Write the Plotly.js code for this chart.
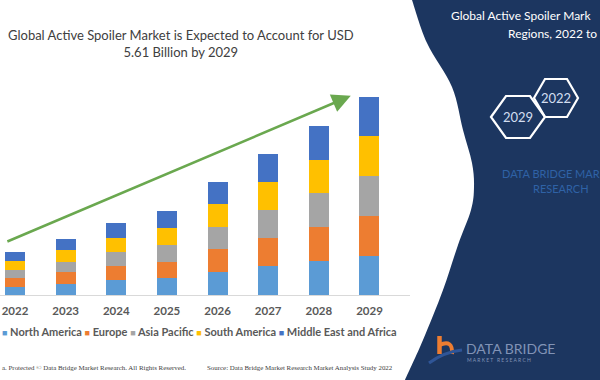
<!DOCTYPE html>
<html>
<head>
<meta charset="utf-8">
<script src="https://cdn.plot.ly/plotly-3.0.1.min.js"></script>
<style>html,body{margin:0;padding:0;background:#fff}#chart{width:600px;height:380px}</style>
</head>
<body>
<div id="chart"></div>
<script>
// ---- data ----
const years = ['2022','2023','2024','2025','2026','2027','2028','2029'];
const seriesNames = ['North America','Europe','Asia Pacific','South America','Middle East and Africa'];
const northAmerica     = [0.22,0.31,0.43,0.47,0.66,0.82,0.96,1.12];
const europe           = [0.26,0.33,0.40,0.47,0.64,0.79,0.96,1.13];
const asiaPacific      = [0.24,0.30,0.39,0.48,0.62,0.80,0.96,1.12];
const southAmerica     = [0.24,0.35,0.41,0.48,0.65,0.79,0.96,1.13];
const middleEastAfrica = [0.26,0.31,0.40,0.49,0.63,0.81,0.95,1.12];
const titleLines = ['Global Active Spoiler Market is Expected to Account for USD','5.61 Billion by 2029'];
// side panel texts as they are visible in the (cropped) reference
const sideTitle = ['Global Active Spoiler Mark','Regions, 2022 to'];
const sideBrand = ['DATA BRIDGE MAR','RESEARCH'];
const hexYears = ['2022','2029'];
const footerLeft = 'a. Protected © Data Bridge Market Research. All Rights Reserved.';
const footerRight = 'Source: Data Bridge Market Research Market Analysis Study 2022';

// ---- styling ----
const colors = ['#5b9bd5','#ed7d31','#a5a5a5','#ffc000','#4472c4'];
const values = [northAmerica, europe, asiaPacific, southAmerica, middleEastAfrica];
const W = 600, H = 380;
const px = x => x / W;
const py = y => 1 - y / H;
const idx = years.map((_, i) => i);

const traces = values.map((v, i) => ({
  type: 'bar', x: idx, y: v, name: seriesNames[i],
  marker: {color: colors[i], line: {width: 0}}, hoverinfo: 'skip'
}));

function smoothPath(pts) {
  let d = `M ${px(pts[0][0])} ${py(pts[0][1])}`;
  for (let i = 0; i < pts.length - 1; i++) {
    const p0 = pts[Math.max(i - 1, 0)], p1 = pts[i], p2 = pts[i + 1], p3 = pts[Math.min(i + 2, pts.length - 1)];
    const c1 = [p1[0] + (p2[0] - p0[0]) / 6, p1[1] + (p2[1] - p0[1]) / 6];
    const c2 = [p2[0] - (p3[0] - p1[0]) / 6, p2[1] - (p3[1] - p1[1]) / 6];
    d += ` C ${px(c1[0])} ${py(c1[1])} ${px(c2[0])} ${py(c2[1])} ${px(p2[0])} ${py(p2[1])}`;
  }
  return d;
}
const curve = [[412,0],[427,43],[452,87],[463,130],[472,163],[474,187],[471,210],[458,245],[443,290],[423,340],[405,380]];
const panelPath = smoothPath(curve) + ` L ${px(600)} ${py(380)} L ${px(600)} ${py(0)} Z`;

function hexPath(cx, cy, hw, hh, ht) {
  const p = [[cx - hw, cy],[cx - ht, cy - hh],[cx + ht, cy - hh],[cx + hw, cy],[cx + ht, cy + hh],[cx - ht, cy + hh]];
  return 'M ' + p.map(q => `${px(q[0])} ${py(q[1])}`).join(' L ') + ' Z';
}
const hexes = [{cx:556, cy:98, hw:22, hh:19, ht:11}, {cx:518, cy:117, hw:27, hh:21, ht:12}];

const shapes = [
  {type:'path', xref:'paper', yref:'paper', path: panelPath, fillcolor:'#1c3660', line:{width:0}, layer:'below'},
  ...hexes.map(h => ({type:'path', xref:'paper', yref:'paper', path: hexPath(h.cx,h.cy,h.hw,h.hh,h.ht), line:{color:'#ffffff', width:2.2}, layer:'above'})),
  // logo
  {type:'path', xref:'paper', yref:'paper', path:`M ${px(439.5)} ${py(336)} L ${px(439.5)} ${py(354)}`, line:{color:'#ed7d31', width:4.5}},
  {type:'path', xref:'paper', yref:'paper', path:`M ${px(439.5)} ${py(345)} Q ${px(453)} ${py(339)} ${px(452)} ${py(354)}`, line:{color:'#ed7d31', width:4}},
  {type:'path', xref:'paper', yref:'paper', path:`M ${px(429)} ${py(363)} Q ${px(444)} ${py(352)} ${px(462)} ${py(350)}`, line:{color:'#2f5597', width:3}}
];

const legendText = seriesNames.map((n, i) => `<span style="color:${colors[i]};font-size:9px">■</span> ${n}`).join(' ');

const annotations = [
  {xref:'paper', yref:'paper', x: px(181), y: py(43.5), text: titleLines.join('<br>'), showarrow:false,
   font:{family:'Lato', size:13, color:'#404040'}, xanchor:'center', yanchor:'middle', align:'center'},
  {xref:'paper', yref:'paper', x: px(0), y: py(331), text: legendText, showarrow:false,
   font:{family:'Lato', size:11, color:'#595959', weight:'bold'}, xanchor:'left', yanchor:'middle'},
  // growth arrow
  {x: 6.63, y: 5.65, ax: -0.18, ay: 1.50, xref:'x', yref:'y', axref:'x', ayref:'y', text:'', showarrow:true,
   arrowhead:2, arrowsize:1.5, arrowwidth:2.5, arrowcolor:'#6aa84f', standoff:0, startstandoff:0},
  // side panel
  {xref:'paper', yref:'paper', x: px(449), y: py(15), text: sideTitle[0], showarrow:false,
   font:{family:'Lato', size:12, color:'#ffffff'}, xanchor:'left', yanchor:'middle'},
  {xref:'paper', yref:'paper', x: px(506), y: py(33), text: sideTitle[1], showarrow:false,
   font:{family:'Lato', size:12, color:'#ffffff'}, xanchor:'left', yanchor:'middle'},
  ...hexes.map((h, i) => ({xref:'paper', yref:'paper', x: px(h.cx), y: py(h.cy), text: hexYears[i], showarrow:false,
   font:{family:'Lato', size:13, color:'#d3def0'}, xanchor:'center', yanchor:'middle'})),
  {xref:'paper', yref:'paper', x: px(500), y: py(173), text: sideBrand[0], showarrow:false,
   font:{family:'Lato', size:11, color:'#2f62a6'}, xanchor:'left', yanchor:'middle'},
  {xref:'paper', yref:'paper', x: px(561), y: py(188.5), text: sideBrand[1], showarrow:false,
   font:{family:'Lato', size:11, color:'#2f62a6'}, xanchor:'center', yanchor:'middle'},
  // footer
  {xref:'paper', yref:'paper', x: px(0), y: py(367), text: footerLeft, showarrow:false,
   font:{family:'Liberation Serif', size:6.9, color:'#404040'}, xanchor:'left', yanchor:'middle'},
  {xref:'paper', yref:'paper', x: px(205), y: py(367), text: footerRight, showarrow:false,
   font:{family:'Liberation Serif', size:6.9, color:'#404040'}, xanchor:'left', yanchor:'middle'},
  // logo text
  {xref:'paper', yref:'paper', x: px(464), y: py(348), text: 'DATA BRIDGE', showarrow:false,
   font:{family:'Lato', size:14, color:'#8193b6'}, xanchor:'left', yanchor:'middle'},
  {xref:'paper', yref:'paper', x: px(465), y: py(360), text: 'M A R K E T   R E S E A R C H', showarrow:false,
   font:{family:'Lato', size:5, color:'#8193b6'}, xanchor:'left', yanchor:'middle'}
];

const layout = {
  width: W, height: H, autosize:false,
  margin:{l:0, r:0, t:0, b:0, pad:0},
  paper_bgcolor:'#ffffff', plot_bgcolor:'rgba(0,0,0,0)',
  barmode:'stack', bargap:0.605, showlegend:false,
  xaxis:{domain:[0, 410/600], range:[-0.296, 7.80], tickvals: idx, ticktext: years, ticks:'',
    ticklabelstandoff:5,
    showgrid:false, zeroline:false, showline:true, linecolor:'#d9d9d9', linewidth:1,
    tickfont:{family:'Lato', size:11.5, color:'#595959', weight:'bold'}, fixedrange:true},
  yaxis:{domain:[85/380, 300/380], range:[0, 6.10], visible:false, fixedrange:true},
  shapes, annotations
};

Plotly.newPlot('chart', traces, layout, {staticPlot:true, displayModeBar:false});
</script>
</body>
</html>
